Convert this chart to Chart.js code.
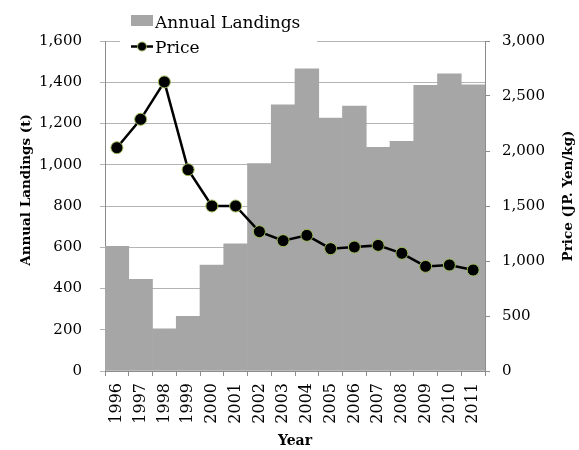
<!DOCTYPE html>
<html>
<head>
<meta charset="utf-8">
<script src="https://cdn.jsdelivr.net/npm/chart.js@4"></script>
<style>
  html, body { margin: 0; padding: 0; background: #ffffff; }
  #wrap { width: 579px; height: 450px; }
</style>
</head>
<body>
<div id="wrap"><canvas id="chart" width="579" height="450"></canvas></div>
<script>
// Years on the horizontal axis
const years = ['1996','1997','1998','1999','2000','2001','2002','2003',
               '2004','2005','2006','2007','2008','2009','2010','2011'];
// Annual landings in tonnes
const landings = [605, 445, 205, 265, 513, 616, 1006, 1290,
                  1465, 1226, 1285, 1085, 1114, 1385, 1441, 1387];
// Price in JP Yen per kg
const price = [2030, 2288, 2628, 1830, 1500, 1500, 1267, 1185,
               1233, 1112, 1127, 1142, 1070, 951, 964, 918];
// Tick values for both vertical axes
const landingTicks = [0, 200, 400, 600, 800, 1000, 1200, 1400, 1600];
const priceTicks = [0, 500, 1000, 1500, 2000, 2500, 3000];
// Axis titles
const xTitle = 'Year';
const leftTitle = 'Annual Landings (t)';
const rightTitle = 'Price (JP. Yen/kg)';

const FONT = '"DejaVu Serif", serif';
const BAR = '#a6a6a6';
const AXIS = '#8c8c8c';
const GRID = '#b4b4b4';
const MARK_EDGE = '#9bbb59';

// Both vertical axis titles read bottom-to-top
const sideTitles = {
  id: 'sideTitles',
  afterDraw(chart) {
    const ctx = chart.ctx;
    ctx.save();
    ctx.font = 'bold 13.5px ' + FONT;
    ctx.fillStyle = '#000000';
    ctx.textAlign = 'center';
    ctx.textBaseline = 'middle';
    [[26, 190, leftTitle], [568, 196, rightTitle]].forEach(([x, y, t]) => {
      ctx.save();
      ctx.translate(x, y);
      ctx.rotate(-Math.PI / 2);
      ctx.fillText(t, 0, 0);
      ctx.restore();
    });
    ctx.restore();
  }
};

// Legend box drawn over the top edge of the plot
const boxLegend = {
  id: 'boxLegend',
  afterDraw(chart) {
    const ctx = chart.ctx;
    const ds = chart.data.datasets;
    ctx.save();
    ctx.fillStyle = '#ffffff';
    ctx.fillRect(120, 0, 197, 60);
    ctx.font = '17px ' + FONT;
    ctx.textBaseline = 'alphabetic';
    ctx.textAlign = 'left';
    // bar entry
    ctx.fillStyle = ds[0].backgroundColor;
    ctx.fillRect(131, 15, 22, 11);
    ctx.fillStyle = '#000000';
    ctx.fillText(ds[0].label, 155, 28);
    // line entry
    ctx.strokeStyle = ds[1].borderColor;
    ctx.lineWidth = 2.5;
    ctx.beginPath();
    ctx.moveTo(131, 46.5);
    ctx.lineTo(153, 46.5);
    ctx.stroke();
    ctx.beginPath();
    ctx.arc(142, 46.5, 4.5, 0, Math.PI * 2);
    ctx.fillStyle = ds[1].pointBackgroundColor;
    ctx.fill();
    ctx.lineWidth = 1;
    ctx.strokeStyle = ds[1].pointBorderColor;
    ctx.stroke();
    ctx.fillStyle = '#000000';
    ctx.fillText(ds[1].label, 155, 52.5);
    ctx.restore();
  }
};

new Chart(document.getElementById('chart'), {
  data: {
    labels: years,
    datasets: [
      {
        type: 'bar',
        label: 'Annual Landings',
        data: landings,
        backgroundColor: BAR,
        borderWidth: 0,
        categoryPercentage: 1.0,
        barPercentage: 1.0,
        yAxisID: 'y',
        order: 2
      },
      {
        type: 'line',
        label: 'Price',
        data: price,
        borderColor: '#000000',
        borderWidth: 2.5,
        pointRadius: 6,
        pointBackgroundColor: '#000000',
        pointBorderColor: MARK_EDGE,
        pointBorderWidth: 1,
        tension: 0,
        yAxisID: 'y1',
        order: 1
      }
    ]
  },
  options: {
    responsive: false,
    animation: false,
    layout: { padding: { top: 41, left: 0, right: 0, bottom: 0 } },
    plugins: {
      legend: { display: false },
      tooltip: { enabled: false }
    },
    scales: {
      x: {
        type: 'category',
        offset: true,
        grid: {
          offset: true,
          drawOnChartArea: false,
          drawTicks: true,
          tickLength: 5,
          color: AXIS
        },
        border: { display: true, color: AXIS, width: 1 },
        ticks: {
          color: '#000000',
          font: { family: FONT, size: 16 },
          minRotation: 90,
          maxRotation: 90,
          padding: 7,
          autoSkip: false
        },
        title: {
          display: true,
          text: xTitle,
          color: '#000000',
          font: { family: FONT, size: 14, weight: 'bold' },
          padding: { top: 0, bottom: 0 }
        },
        afterFit(scale) { scale.height = 79; }
      },
      y: {
        position: 'left',
        min: 0,
        max: 1600,
        afterBuildTicks(scale) { scale.ticks = landingTicks.map(v => ({ value: v })); },
        grid: {
          drawOnChartArea: true,
          drawTicks: true,
          tickLength: 5,
          color: GRID
        },
        border: { display: true, color: AXIS, width: 1 },
        ticks: {
          color: '#000000',
          font: { family: FONT, size: 15 },
          padding: 18,
          callback: v => Number(v).toLocaleString('en-US')
        },
        afterFit(scale) { scale.width = 105; }
      },
      y1: {
        position: 'right',
        min: 0,
        max: 3000,
        afterBuildTicks(scale) { scale.ticks = priceTicks.map(v => ({ value: v })); },
        grid: {
          drawOnChartArea: false,
          drawTicks: true,
          tickLength: 5,
          color: AXIS
        },
        border: { display: true, color: AXIS, width: 1 },
        ticks: {
          color: '#000000',
          font: { family: FONT, size: 15 },
          padding: 12,
          callback: v => Number(v).toLocaleString('en-US')
        },
        afterFit(scale) { scale.width = 94; }
      }
    }
  },
  plugins: [sideTitles, boxLegend]
});
</script>
</body>
</html>
